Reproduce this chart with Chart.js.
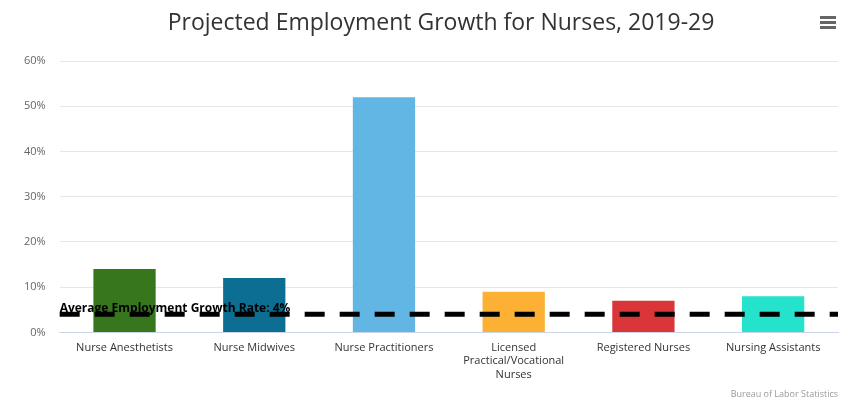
<!DOCTYPE html>
<html>
<head>
<meta charset="utf-8">
<script src="https://cdn.jsdelivr.net/npm/chart.js@4"></script>
<style>
  html, body { margin: 0; padding: 0; background: #fff; }
  #wrap { width: 856px; height: 406px; }
</style>
</head>
<body>
<div id="wrap"><canvas id="chart" width="856" height="406"></canvas></div>
<script>
const categories = [
  'Nurse Anesthetists',
  'Nurse Midwives',
  'Nurse Practitioners',
  ['Licensed', 'Practical/Vocational', 'Nurses'],
  'Registered Nurses',
  'Nursing Assistants'
];
const growth = [14, 12, 52, 9, 7, 8];
const barColors = ['#38761d', '#0b6e92', '#62b6e4', '#fcb034', '#da363a', '#24e2cb'];
const yTicks = [0, 10, 20, 30, 40, 50, 60];
const averageRate = 4;
const titleText = 'Projected Employment Growth for Nurses, 2019-29';
const averageLabel = 'Average Employment Growth Rate: 4%';
const creditText = 'Bureau of Labor Statistics';

const FONT = "'Open Sans', sans-serif";

// title, dashed average line + label, credit and menu icon
const extras = {
  id: 'extras',
  afterDatasetsDraw(chart) {
    const { ctx, chartArea: a, scales: { y } } = chart;
    const yPos = y.getPixelForValue(averageRate);
    ctx.save();
    ctx.strokeStyle = '#000';
    ctx.lineWidth = 5;
    ctx.setLineDash([20, 15]);
    ctx.beginPath();
    ctx.moveTo(a.left, yPos);
    ctx.lineTo(a.right, yPos);
    ctx.stroke();
    ctx.setLineDash([]);
    ctx.fillStyle = '#000';
    ctx.font = `bold 12px ${FONT}`;
    ctx.textBaseline = 'alphabetic';
    ctx.textAlign = 'left';
    ctx.fillText(averageLabel, a.left, yPos - 2);
    ctx.restore();
  },
  afterDraw(chart) {
    const { ctx, width, height } = chart;
    ctx.save();
    ctx.fillStyle = '#333';
    ctx.font = `23px ${FONT}`;
    ctx.textAlign = 'center';
    ctx.textBaseline = 'middle';
    ctx.fillText(titleText, 441, 23);
    ctx.fillStyle = '#999';
    ctx.font = `9px ${FONT}`;
    ctx.textAlign = 'right';
    ctx.textBaseline = 'alphabetic';
    ctx.fillText(creditText, width - 18, height - 9);
    ctx.fillStyle = '#666';
    [16, 21, 26].forEach(t => ctx.fillRect(820, t, 16, 3));
    ctx.restore();
  }
};

new Chart(document.getElementById('chart'), {
  type: 'bar',
  data: {
    labels: categories,
    datasets: [{
      data: growth,
      backgroundColor: barColors,
      borderWidth: 0,
      barPercentage: 0.48,
      categoryPercentage: 1
    }]
  },
  options: {
    responsive: false,
    animation: false,
    layout: { padding: { left: 10, right: 18, bottom: 16, top: 61 } },
    plugins: {
      legend: { display: false },
      tooltip: { enabled: false },
      title: { display: false }
    },
    scales: {
      x: {
        grid: { display: false, drawTicks: false },
        border: { display: true, color: '#ccd6eb', width: 1 },
        ticks: {
          color: '#333',
          font: { family: FONT, size: 11 },
          padding: 9,
          maxRotation: 0,
          autoSkip: false
        }
      },
      y: {
        min: 0,
        max: 60,
        afterBuildTicks(axis) { axis.ticks = yTicks.map(v => ({ value: v })); },
        grid: { color: '#e6e6e6', drawTicks: false },
        border: { display: false },
        ticks: {
          color: '#666',
          font: { family: FONT, size: 11 },
          padding: 14,
          callback: v => v + '%'
        }
      }
    }
  },
  plugins: [extras]
});
</script>
</body>
</html>
